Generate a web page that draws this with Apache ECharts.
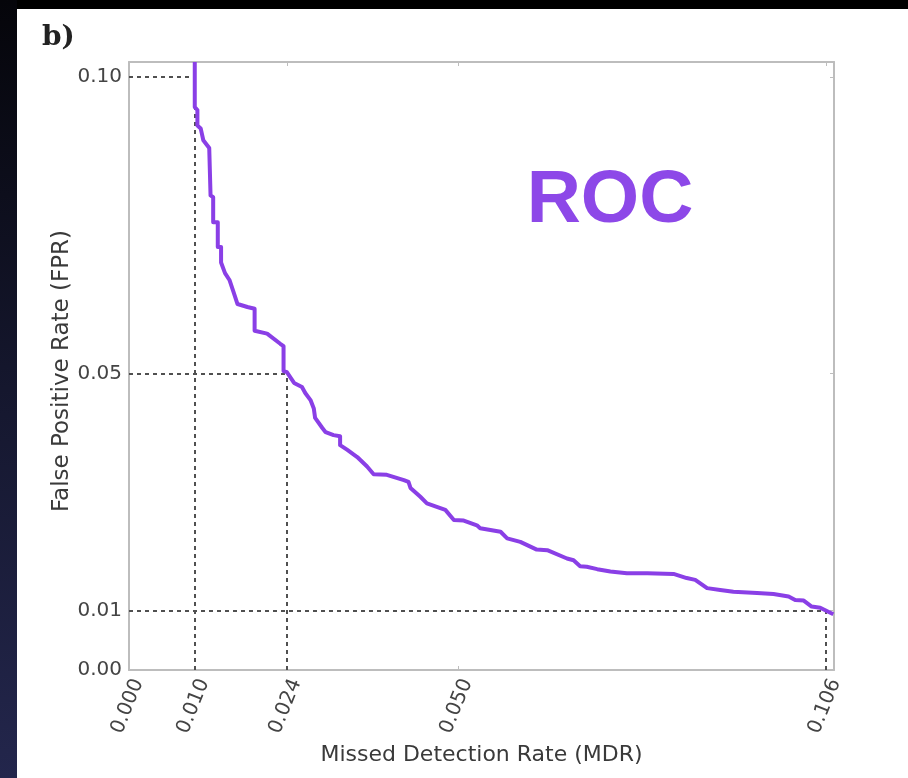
<!DOCTYPE html>
<html>
<head>
<meta charset="utf-8">
<script src="https://cdn.jsdelivr.net/npm/echarts@6/dist/echarts.min.js"></script>
<style>
  html, body { margin: 0; padding: 0; background: #000; }
  #chart { width: 908px; height: 778px; }
</style>
</head>
<body>
<div id="chart"></div>
<script>
// ROC trade-off curve: missed detection rate vs. false positive rate
const mdr = [
  0.0100, 0.0100, 0.0104, 0.0104, 0.0109, 0.0113, 0.0122, 0.0124, 0.0128, 0.0128,
  0.0135, 0.0135, 0.0140, 0.0140, 0.0146, 0.0153, 0.0159, 0.0165, 0.0180, 0.0191,
  0.0191, 0.0210, 0.0230, 0.0235, 0.0235, 0.0240, 0.0251, 0.0263, 0.0268, 0.0276,
  0.0281, 0.0283, 0.0294, 0.0299, 0.0311, 0.0321, 0.0321, 0.0332, 0.0347, 0.0362,
  0.0372, 0.0392, 0.0418, 0.0425, 0.0428, 0.0443, 0.0453, 0.0468, 0.0481, 0.0494,
  0.0509, 0.0529, 0.0534, 0.0565, 0.0575, 0.0595, 0.0620, 0.0636, 0.0666, 0.0676,
  0.0686, 0.0696, 0.0712, 0.0732, 0.0757, 0.0788, 0.0828, 0.0848, 0.0861, 0.0879,
  0.0899, 0.0919, 0.0955, 0.0980, 0.1003, 0.1013, 0.1026, 0.1038, 0.1051, 0.1071
];
const fpr = [
  0.1025, 0.0949, 0.0944, 0.0918, 0.0913, 0.0893, 0.0880, 0.0800, 0.0797, 0.0755,
  0.0755, 0.0713, 0.0713, 0.0687, 0.0669, 0.0657, 0.0637, 0.0617, 0.0612, 0.0609,
  0.0572, 0.0567, 0.0550, 0.0546, 0.0504, 0.0502, 0.0484, 0.0477, 0.0467, 0.0455,
  0.0441, 0.0425, 0.0408, 0.0401, 0.0396, 0.0394, 0.0379, 0.0371, 0.0359, 0.0343,
  0.0330, 0.0329, 0.0320, 0.0317, 0.0307, 0.0292, 0.0281, 0.0275, 0.0270, 0.0253,
  0.0252, 0.0244, 0.0239, 0.0233, 0.0222, 0.0216, 0.0203, 0.0202, 0.0188, 0.0185,
  0.0175, 0.0174, 0.0170, 0.0166, 0.0163, 0.0163, 0.0162, 0.0155, 0.0152, 0.0138,
  0.0135, 0.0132, 0.0130, 0.0128, 0.0124, 0.0118, 0.0117, 0.0107, 0.0105, 0.0094
];

// Operating points highlighted by dashed guides
const opMdr = [0.010, 0.024, 0.106];
const opFpr = [0.10, 0.05, 0.01];

// Tick labels
const xTicks = [0.000, 0.010, 0.024, 0.050, 0.106];
const yTicks = [0.00, 0.01, 0.05, 0.10];

const X_MAX = 0.1072;
const Y_MAX = 0.1025;

const curve = mdr.map((m, i) => [m, fpr[i]]);

const guides = [];
opMdr.forEach((m, i) => {
  const f = opFpr[i];
  guides.push([{ coord: [0, f] }, { coord: [m, f] }]);
  guides.push([{ coord: [m, 0] }, { coord: [m, f] }]);
});

const frameColor = '#bdbdbd';
const tickFont = { fontFamily: 'DejaVu Sans', fontSize: 20, color: '#444' };
const titleFont = { fontFamily: 'DejaVu Sans', fontSize: 22, color: '#3a3a3a' };

const chart = echarts.init(document.getElementById('chart'), null, { renderer: 'canvas' });

chart.setOption({
  backgroundColor: '#000',
  animation: false,
  graphic: [
    {
      type: 'rect', z: -10, silent: true,
      shape: { x: 0, y: 0, width: 17, height: 778 },
      style: {
        fill: new echarts.graphic.LinearGradient(0, 0, 0, 1, [
          { offset: 0, color: '#05050a' },
          { offset: 0.5, color: '#15172e' },
          { offset: 1, color: '#23264c' }
        ])
      }
    },
    {
      type: 'rect', z: -10, silent: true,
      shape: { x: 17, y: 9, width: 891, height: 769 },
      style: { fill: '#ffffff' }
    },
    {
      type: 'text', left: 42, top: 24, silent: true,
      style: { text: 'b)', font: 'bold 28px "DejaVu Serif"', fill: '#222' }
    },
    {
      type: 'text', x: 610, y: 201, silent: true,
      style: {
        text: 'ROC', font: 'bold 75px "Liberation Sans", Arial',
        fill: '#8d48e8', align: 'center', verticalAlign: 'middle'
      }
    }
  ],
  grid: { left: 129, right: 74, top: 62, bottom: 108, containLabel: false },
  xAxis: [
    {
      type: 'value', min: 0, max: X_MAX, position: 'bottom',
      name: 'Missed Detection Rate (MDR)', nameLocation: 'middle', nameGap: 73,
      nameTextStyle: titleFont,
      axisLine: { show: true, onZero: false, lineStyle: { color: frameColor, width: 2 } },
      axisTick: { show: true, inside: true, length: 4, customValues: xTicks, lineStyle: { color: frameColor } },
      axisLabel: {
        ...tickFont, rotate: 68, margin: 6, verticalAlign: 'top', customValues: xTicks,
        formatter: v => v.toFixed(3)
      },
      splitLine: { show: false }
    },
    {
      type: 'value', min: 0, max: X_MAX, position: 'top',
      axisLine: { show: true, onZero: false, lineStyle: { color: frameColor, width: 2 } },
      axisTick: { show: true, inside: true, length: 4, customValues: xTicks, lineStyle: { color: frameColor } },
      axisLabel: { show: false },
      splitLine: { show: false }
    }
  ],
  yAxis: [
    {
      type: 'value', min: 0, max: Y_MAX, position: 'left',
      name: 'False Positive Rate (FPR)', nameLocation: 'middle', nameGap: 55,
      nameMoveOverlap: false,
      nameTextStyle: { ...titleFont, fontSize: 23, padding: [0, 10, 0, 0] },
      axisLine: { show: true, onZero: false, lineStyle: { color: frameColor, width: 2 } },
      axisTick: { show: true, inside: true, length: 4, customValues: yTicks, lineStyle: { color: frameColor } },
      axisLabel: { ...tickFont, margin: 7, customValues: yTicks, formatter: v => v.toFixed(2) },
      splitLine: { show: false }
    },
    {
      type: 'value', min: 0, max: Y_MAX, position: 'right',
      axisLine: { show: true, onZero: false, lineStyle: { color: frameColor, width: 2 } },
      axisTick: { show: true, inside: true, length: 4, customValues: yTicks, lineStyle: { color: frameColor } },
      axisLabel: { show: false },
      splitLine: { show: false }
    }
  ],
  series: [
    {
      name: 'guides', type: 'line', data: [], silent: true,
      markLine: {
        silent: true, symbol: 'none', animation: false,
        label: { show: false },
        lineStyle: { color: '#505050', width: 2, type: [4, 4] },
        data: guides
      },
      z: 2
    },
    {
      name: 'ROC', type: 'line', data: curve,
      showSymbol: false, smooth: false, clip: true,
      lineStyle: { color: '#8a3fe6', width: 4, join: 'round' },
      z: 5
    }
  ]
});
</script>
</body>
</html>
